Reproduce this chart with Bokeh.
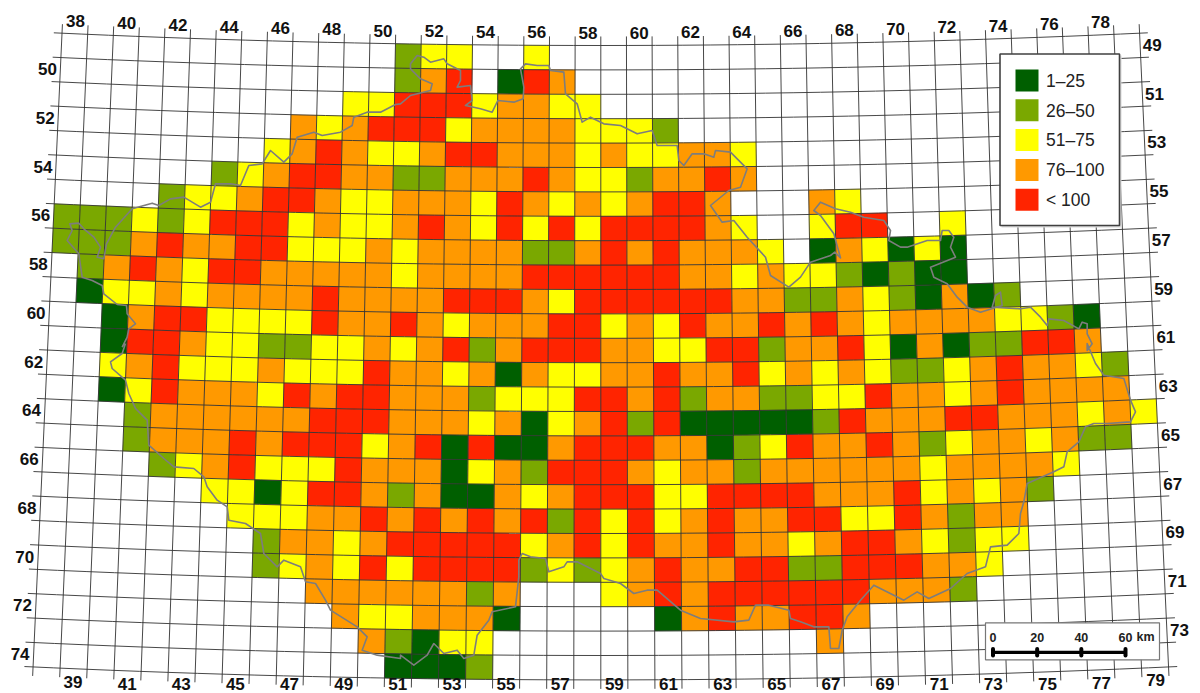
import math
from bokeh.plotting import figure
from bokeh.models import ColumnDataSource, Range1d
from bokeh.core.properties import value
from bokeh.embed import file_html
from bokeh.resources import INLINE

# ---------------- data ----------------
legend_labels = ["1\u201325", "26\u201350", "51\u201375", "76\u2013100", "< 100"]
legend_keys = ["k", "g", "y", "o", "r"]
scale_km = [0, 20, 40, 60]
left_row_labels = list(range(50, 75, 2))
right_row_labels = list(range(49, 74, 2))
top_col_labels = list(range(38, 79, 2))
bottom_col_labels = list(range(39, 80, 2))
first_col, last_col = 38, 79
first_row, last_row = 49, 74

# (row, first column, class of each square; "." = no data)
grid_rows = [
    (49, 51, "gyy..y"),
    (50, 51, "gor.kro"),
    (51, 49, "yyrrryooyy"),
    (52, 47, "oyorrryooooyyyg"),
    (53, 46, "yoroyyorroooyoyyooy"),
    (54, 44, "gyorrooggoooroyygooro"),
    (55, 42, "gyyorroyyoooyroyoyorro...oy"),
    (56, 38, "gggygyrrryoyyoroyryryrrrroy..yrr..y"),
    (57, 38, "gggoroorryyyoyooooggororoooy.koykyk"),
    (58, 39, "goroyrroooooyoooorrrrrrooyoyygkgkk"),
    (59, 39, "kyyoyoooor" "oooo" "rrr" "oy" "rrrrrr" "oo" "gg" "oygkokg"),
    (60, 40, "korryyyyroor" "oyooorryoyroororoyooooyygk"),
    (61, 40, "krroyyggyyoy" "orgorrrooyyrrgoorykokggrro"),
    (62, 40, "yoryyyoyyyro" "oyokoyyooroor" "yoyoygg" "yorooyg"),
    (63, 40, "kyroooyrorro" "oogyyyrrorgooggyyrooyoroooo"),
    (64, 41, "goooooorrro" "ooyokyorgrkkkkkgrooorroooyoy"),
    (65, 41, "gooororrryo" "rkrkkorrrookgyroorogyooyogg"),
    (66, 42, "gyoryyyroo" "okyogrrroyoogooooooyooooy"),
    (67, 44, "yykyrrog" "okkoyorrryyrrrrooo" "ryoyog"),
    (68, 45, "yyyooro" "rororgryryoroorryyrogoo"),
    (69, 46, "gooyor" "rrrryoryroorooyorroygyy"),
    (70, 46, "gyoyry" "rrrrgygyoroorrggrrrooy"),
    (71, 48, "oooooogo" "..." "yororrrrrrooog"),
    (72, 49, "oyyoook" "....." "koroorro"),
    (73, 50, "ogkyy" "............" "o"),
    (74, 51, "kkkg"),
]

# Border of the country in six pieces
border_nw = [(365,1040),(380,1010),(385,985),(405,970),(380,940),(378,915),(350,912),(310,880),(305,855),(275,840),(245,830),(235,760),(200,720),(215,690),(208,670),(235,668),(250,685),(280,710),(300,740),(290,770),(310,775),(318,730),(345,680),(395,625),(455,608),(475,615),(510,595),(550,590),(600,620),(630,605),(645,550),(690,550),(720,555),(745,495),(785,490),(810,450),(850,485),(875,460),(890,410),(940,395),(965,405),(1020,395),(1055,375),(1060,350),(1100,335),(1140,335),(1185,312)]
border_n = [(0,310),(30,285),(90,270),(95,250),(60,235),(30,205),(30,190),(50,165),(70,170),(90,185),(130,175),(140,190),(180,210),(180,240),(170,260),(210,255),(215,300),(195,315),(240,325),(275,335),(292,300),(340,305),(368,295),(370,260),(360,205),(375,190),(410,195),(445,195),(450,210),(490,215),(495,280),(530,310),(545,365),(570,350),(610,370),(660,375),(710,400),(755,390),(770,435),(830,435),(835,480),(850,495),(875,460),(910,460),(940,470),(945,450),(990,455),(1040,505),(1020,560),(985,570),(930,615),(965,665),(1000,660),(1040,710),(1095,770),(1110,825),(1165,860),(1200,830)]
border_ne = [(0,830),(30,785),(90,765),(103,755),(120,772),(100,700),(60,645),(40,630),(60,605),(105,625),(150,635),(190,650),(250,660),(270,690),(265,720),(300,740),(320,740),(380,720),(420,720),(425,690),(445,690),(460,710),(450,740),(465,770),(390,800),(400,830),(440,850),(470,890),(500,920),(540,935),(605,915),(600,875),(585,885),(575,920),(660,925),(690,920),(720,950),(740,975),(745,955),(790,960),(835,985),(845,965),(860,970),(860,1000),(875,1030),(860,1050)]
border_se = [(860,0),(885,60),(910,95),(970,105),(990,170),(1005,205),(990,235),(920,240),(880,240),(855,250),(835,295),(800,325),(790,370),(760,385),(680,420),(670,475),(660,510),(655,570),(620,605),(570,610),(555,670),(500,690),(450,735),(385,765),(350,745),(310,770),(220,725),(180,770),(140,820),(125,860),(115,915),(90,915),(85,850),(40,850),(0,835)]
border_s = [(1200,835),(1170,825),(1165,800),(1105,785),(1065,785),(1045,830),(1000,835),(900,825),(840,800),(770,740),(740,740),(700,750),(660,720),(610,705),(600,690),(530,655),(500,655),(490,670),(445,685),(435,645),(390,640),(365,630),(355,650),(355,700),(345,790),(275,805),(265,830),(230,875),(220,935),(190,945),(170,920),(130,930),(100,900),(80,935),(40,965),(0,935)]
border_sw = [(1200,945),(1130,935),(1085,920),(1100,880),(1070,850),(990,800),(975,770),(945,720),(915,715),(900,670),(850,650),(830,670),(790,630),(780,570),(735,540),(685,530),(680,490),(650,470),(620,430),(610,400),(580,375),(520,370),(490,345),(445,305),(440,230),(405,195),(385,150),(375,110),(335,75),(330,55),(365,30),(375,0)]

# ---------------- styles ----------------
colors = {"k": "#005f00", "g": "#7aa800", "y": "#ffff00", "o": "#ff9900", "r": "#ff2400"}
FONT = value("Liberation Sans")

# ---------------- projection: conic grid of the map ----------------
CX, TOP, R0, DR, THETA = 600.3, 45.0, 11800.0, 24.4, 0.002175

def proj(col, row):
    r = R0 + (row - first_row) * DR
    phi = (col - (first_col + 21)) * THETA
    return CX + r * math.sin(phi), TOP - R0 + r * math.cos(phi)

p = figure(width=1200, height=693, x_range=Range1d(0, 1200), y_range=Range1d(693, 0),
           x_axis_type=None, y_axis_type=None, toolbar_location=None, output_backend="svg",
           min_border=0, outline_line_color=None, background_fill_color="white",
           border_fill_color="white")

# squares
xs, ys, fc = [], [], []
def add_cell(row, col, key):
    corners = [proj(col, row), proj(col + 1, row), proj(col + 1, row + 1), proj(col, row + 1)]
    xs.append([c[0] for c in corners])
    ys.append([c[1] for c in corners])
    fc.append(colors[key])
for row, start, cells in grid_rows:
    for i, key in enumerate(cells):
        if key != ".":
            add_cell(row, start + i, key)
p.patches(xs, ys, fill_color=fc, line_color=fc, line_width=0.3)

# grid
gx, gy = [], []
for c in range(first_col, last_col + 2):
    pts = [proj(c, first_row - 0.37), proj(c, last_row + 1.37)]
    gx.append([q[0] for q in pts]); gy.append([q[1] for q in pts])
for r in range(first_row, last_row + 2):
    n = 40
    pts = [proj(first_col - 0.32 + (last_col + 1 - first_col + 0.64) * i / n, r) for i in range(n + 1)]
    gx.append([q[0] for q in pts]); gy.append([q[1] for q in pts])
p.multi_line(gx, gy, line_color="#333333", line_width=1, line_alpha=0.9)

# border
bx, by = [], []
for seg, ox, oy in [(border_nw, 0, 0), (border_n, 400, 0), (border_ne, 800, 0),
                    (border_se, 800, 343), (border_s, 400, 343), (border_sw, 0, 343)]:
    for zx, zy in seg:
        bx.append(ox + zx / 3); by.append(oy + zy / 3)
p.line(bx, by, line_color="#7d7d7d", line_width=1.6, line_join="round")

# map labels
def labels(pts, texts):
    src = ColumnDataSource(dict(x=[q[0] for q in pts], y=[q[1] for q in pts], t=[str(v) for v in texts]))
    p.text("x", "y", text="t", source=src, text_font=FONT, text_font_size="17px", text_font_style="bold",
           text_color="#111111", text_align="center", text_baseline="middle")
labels([proj(first_col - 0.5, r + 0.5) for r in left_row_labels], left_row_labels)
labels([proj(last_col + 1.47, r + 0.5) for r in right_row_labels], right_row_labels)
labels([proj(c + 0.5, first_row - 0.53) for c in top_col_labels], top_col_labels)
# the lowest labels are kept just inside the picture's bottom edge
bottom_pts = [proj(c + 0.5, last_row + 1.53) for c in bottom_col_labels]
labels([(q[0], min(q[1], 683.0)) for q in bottom_pts], bottom_col_labels)

# legend
p.quad(left=[1001], right=[1121], top=[55], bottom=[227], fill_color="#d8d8d8", line_color=None)
p.quad(left=[999.5], right=[1119], top=[53.5], bottom=[225], fill_color="white", line_color="#404040", line_width=1.6)
for i, (lab, key) in enumerate(zip(legend_labels, legend_keys)):
    top = 69 + i * 29.8
    p.quad(left=[1015], right=[1038], top=[top], bottom=[top + 22], fill_color=colors[key], line_color=None)
    p.text([1045.5], [top + 11.3], text=[lab], text_font=FONT, text_font_size="17.5px", text_color="#222222",
           text_align="left", text_baseline="middle")

# scale bar
p.quad(left=[985], right=[1159], top=[622.3], bottom=[659.3], fill_color="white", line_color="#777777", line_width=1.2)
km_x = [992.5 + v * (1125 - 992.5) / 60 for v in scale_km]
p.segment([km_x[0]], [651.8], [km_x[-1]], [651.8], line_color="black", line_width=3.2)
p.segment(km_x, [648.5] * 4, km_x, [655] * 4, line_color="black", line_width=4, line_cap="round")
p.text(km_x, [636.7] * 4, text=[str(v) for v in scale_km], text_font=FONT, text_font_size="12.5px",
       text_font_style="bold", text_color="#222222", text_align="center", text_baseline="middle")
p.text([1145], [636.7], text=["km"], text_font=FONT, text_font_size="12.5px", text_font_style="bold",
       text_color="#222222", text_align="center", text_baseline="middle")

open("out.html", "w").write(file_html(p, INLINE))
